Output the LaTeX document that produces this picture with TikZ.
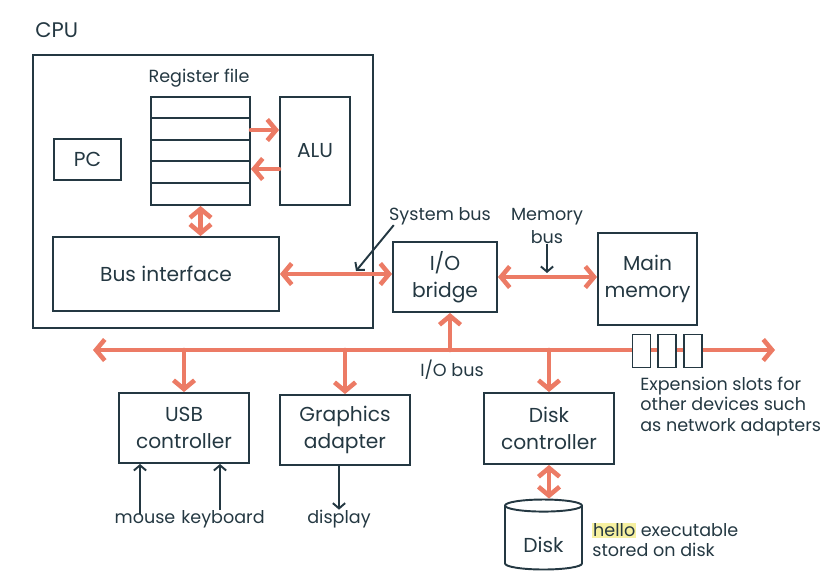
\documentclass[tikz,border=0pt]{standalone}
\usepackage{fontspec}
\setmainfont{Poppins}
\usetikzlibrary{arrows.meta,shapes.geometric}
\definecolor{ink}{RGB}{36,56,66}
\definecolor{salmon}{RGB}{236,123,101}
\definecolor{hl}{RGB}{246,240,160}

\begin{document}
\begin{tikzpicture}[x=0.02cm,y=-0.02cm,
  box/.style={draw=ink,line width=1.1pt,inner sep=0pt,align=center,text=ink,font=\fontsize{11.5}{15.5}\selectfont},
  txt/.style={text=ink,inner sep=0pt,font=\fontsize{10}{11.5}\selectfont},
  link/.style={draw=salmon,line width=2.6pt,line cap=round,{Straight Barb[length=5pt,width=12pt]}-{Straight Barb[length=5pt,width=12pt]}},
  drop/.style={draw=salmon,line width=2.6pt,line cap=round,-{Straight Barb[length=5pt,width=12pt]}},
  thin/.style={draw=ink,line width=1.1pt,-{Straight Barb[length=3pt,width=7pt]}}]
\useasboundingbox (0,0) rectangle (830,585);

\foreach \n/\x/\y/\w/\h/\t in {cpu/203/191.5/6.8/5.46/{}, reg/200.5/151/1.98/2.16/{}, alu/315/151/1.4/2.16/ALU,
    pc/87.5/159.5/1.34/0.82/PC, busif/166/274/4.52/1.48/Bus interface, bridge/445/277/2.08/1.4/{I/O\\bridge},
    mem/647.5/279/1.98/1.84/{Main\\memory}, usb/184/428/2.6/1.4/{USB\\controller},
    gfx/345/430/2.6/1.4/{Graphics\\adapter}, dctl/549/428.5/2.6/1.42/{Disk\\controller}}
  \node[box,minimum width=\w cm,minimum height=\h cm] (\n) at (\x,\y) {\t};
\foreach \y in {118,140,161,183}
  \draw[ink,line width=1.1pt] (151,\y) -- (250,\y);

\node[txt,anchor=west,font=\fontsize{12}{14}\selectfont] (cpulbl) at (35,30) {CPU};
\node[txt] (reglbl) at (199,78) {Register file};
\node[txt] (sysbus) at (440,216) {System bus};
\node[txt,align=center,font=\fontsize{10}{13}\selectfont] (membus) at (547,226) {Memory\\bus};
\node[txt] (iobus) at (452,370) {I/O bus};
\node[txt,align=left,anchor=north west] (slotlbl) at (640,377) {Expension slots for\\other devices such\\as network adapters};
\node[txt] (mouse) at (145,519) {mouse};
\node[txt] (keyb) at (223,519) {keyboard};
\node[txt] (disp) at (339,519) {display};
\node[txt,align=left,anchor=west] (hello) at (592,540) {{\setlength\fboxsep{0.5pt}\colorbox{hl}{hello}} executable\\stored on disk};
\node[draw=ink,line width=1.1pt,cylinder,shape border rotate=90,aspect=0.3,minimum width=1.54cm,minimum height=1.4cm,
  inner sep=0pt,text=ink,font=\fontsize{11.5}{14}\selectfont] (disk) at (543.5,538) {\raisebox{-8.5pt}[0pt][0pt]{Disk}};

\coordinate (busL) at (93,350);
\coordinate (busR) at (775,350);
\coordinate (sysptr) at (356,271);
\coordinate (memptr) at (547,273);

% buses inside the CPU and to memory
\draw[drop] ([yshift=0.42cm]reg.east) -- ([yshift=0.42cm]alu.west);
\draw[drop] ([yshift=-0.36cm]alu.west) -- ([yshift=-0.36cm]reg.east);
\draw[link] (reg.south) -- (reg.south |- busif.north);
\draw[link] (busif.east) -- (busif.east -| bridge.west);
\draw[link] (bridge.east) -- (bridge.east -| mem.west);

% I/O bus
\draw[link] (busL) -- (busR);
\draw[drop] ([xshift=0.1cm]bridge.south |- busL) -- ([xshift=0.1cm]bridge.south);
\foreach \n in {usb,gfx,dctl}
  \draw[drop] (\n.north |- busL) -- (\n.north);
\foreach \x/\n in {641.5/s1,667/s2,693/s3}
  \node[box,fill=white,minimum width=0.36cm,minimum height=0.66cm] (\n) at (\x,351) {};
\draw[link] (dctl.south) -- (dctl.south |- disk.north);

% pointers
\draw[thin] ([xshift=0.1cm]sysbus.south west) -- (sysptr);
\draw[thin] (membus.south) -- (memptr);
\draw[thin] ([xshift=-0.1cm]mouse.north) -- ([xshift=-0.1cm]mouse.north |- usb.south);
\draw[thin] ([xshift=-0.06cm]keyb.north) -- ([xshift=-0.06cm]keyb.north |- usb.south);
\draw[thin] (gfx.south -| disp.north) -- (disp.north);
\end{tikzpicture}
\end{document}
